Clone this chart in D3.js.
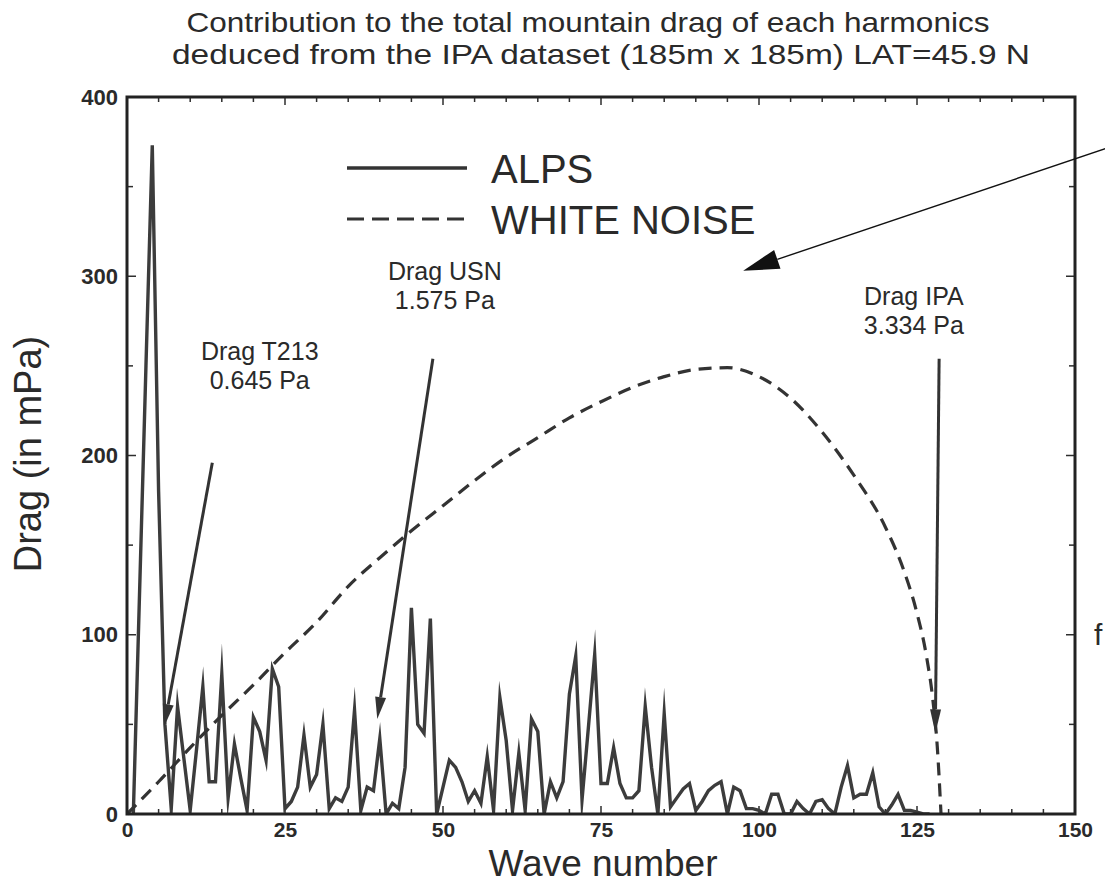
<!DOCTYPE html>
<html><head><meta charset="utf-8">
<script src="https://cdn.jsdelivr.net/npm/d3@7"></script>
<style>
html,body{margin:0;padding:0;background:#fff;}
svg{display:block;}
text{font-family:"Liberation Sans",Arial,Helvetica,sans-serif;fill:#2a2a2a;}
</style></head>
<body>
<script>
// ---------- data ----------
const titleLines = ["Contribution to the total mountain drag of each harmonics",
                    "deduced from the IPA dataset (185m x 185m) LAT=45.9 N"];
const xTicks = [0, 25, 50, 75, 100, 125, 150];
const yTicks = [0, 100, 200, 300, 400];
const seriesNames = ["ALPS", "WHITE NOISE"];
// ALPS: drag per harmonic (mPa), wave numbers 1..127
const alpsValues = [0, 125, 250, 373, 180, 50, 3, 60, 31, 2, 36, 71, 18, 18, 78, 9, 39, 20, 2, 54,
  46, 30, 81, 71, 3, 7, 15, 44, 15, 22, 50, 3, 9, 7, 15, 58, 2, 15, 13, 42,
  0, 6, 3, 26, 115, 50, 45, 109, 0, 15, 30, 26, 18, 7, 13, 6, 32, 2, 65, 41,
  2, 34, 2, 53, 46, 0, 18, 9, 18, 67, 88, 8, 48, 89, 17, 17, 37, 17, 9, 9,
  13, 60, 26, 0, 56, 4, 9, 14, 17, 2, 7, 13, 16, 18, 0, 15, 13, 3, 3, 2,
  0, 11, 11, 0, 0, 7, 3, 0, 7, 8, 3, 0, 15, 27, 9, 11, 11, 23, 4, 0,
  5, 11, 2, 2, 1, 0, 0];
const alpsWaves = alpsValues.map((v, i) => i + 1);
// WHITE NOISE spectrum
const noiseWaves  = [0, 5, 10, 15, 20, 25, 30, 35, 40, 45, 50, 55, 60, 65, 70, 75, 80, 85, 90, 95,
  100, 105, 110, 115, 120, 123, 125, 126.5, 127.5, 128.2, 128.8];
const noiseValues = [0, 18, 37, 55, 72, 90, 107, 127, 143, 158, 172, 186, 199, 210, 221, 230, 238, 244, 248, 249,
  244, 232, 213, 189, 160, 135, 112, 88, 64, 38, 0];
// annotations (data units)
const annoLabels = [["Drag T213", "0.645 Pa"], ["Drag USN", "1.575 Pa"], ["Drag IPA", "3.334 Pa"]];

// ---------- layout ----------
const W = 1105, H = 885;
const L = 127, R = 1075, T = 97, B = 814;
const svg = d3.select("body").append("svg").attr("width", W).attr("height", H);
const x = d3.scaleLinear().domain([0, 150]).range([L, R]);
const y = d3.scaleLinear().domain([0, 400]).range([B, T]);
const ink = "#2e2e2e";

// title
svg.append("text").attr("x", 588).attr("y", 32).attr("text-anchor", "middle")
  .attr("font-size", 28).attr("textLength", 803).attr("lengthAdjust", "spacingAndGlyphs").text(titleLines[0]);
svg.append("text").attr("x", 601).attr("y", 64).attr("text-anchor", "middle")
  .attr("font-size", 28).attr("textLength", 858).attr("lengthAdjust", "spacingAndGlyphs").text(titleLines[1]);

// ticks (inside) - bottom / top / left / right
const gt = svg.append("g").attr("stroke", ink).attr("stroke-width", 1.5);
d3.range(0, 151, 5).forEach(v => {
  const len = v % 25 === 0 ? 8 : 5;
  gt.append("line").attr("x1", x(v)).attr("x2", x(v)).attr("y1", B).attr("y2", B - len);
  gt.append("line").attr("x1", x(v)).attr("x2", x(v)).attr("y1", T).attr("y2", T + len);
});
d3.range(0, 401, 50).forEach(v => {
  const len = v % 100 === 0 ? 9 : 6;
  gt.append("line").attr("x1", L).attr("x2", L + len).attr("y1", y(v)).attr("y2", y(v));
  gt.append("line").attr("x1", R).attr("x2", R - len).attr("y1", y(v)).attr("y2", y(v));
});

// axes labels via d3 axes
const xAxis = svg.append("g").attr("transform", `translate(0,${B})`)
  .call(d3.axisBottom(x).tickValues(xTicks).tickSize(0).tickPadding(8));
xAxis.select(".domain").remove();
xAxis.selectAll("text").attr("font-size", 21).attr("font-weight", "bold").attr("fill", "#333")
  .style("font-family", '"Liberation Sans",Arial,sans-serif');
const yAxis = svg.append("g").attr("transform", `translate(${L},0)`)
  .call(d3.axisLeft(y).tickValues(yTicks).tickSize(0).tickPadding(9));
yAxis.select(".domain").remove();
yAxis.selectAll("text").attr("font-size", 22).attr("font-weight", "bold").attr("fill", "#333")
  .style("font-family", '"Liberation Sans",Arial,sans-serif');

svg.append("text").attr("x", 603).attr("y", 876).attr("text-anchor", "middle").attr("font-size", 37).text("Wave number");
svg.append("text").attr("transform", "translate(41,454) rotate(-90)").attr("text-anchor", "middle")
  .attr("font-size", 38).text("Drag (in mPa)");

// data lines
svg.append("clipPath").attr("id", "clip").append("rect")
  .attr("x", L).attr("y", T).attr("width", R - L).attr("height", B - T);
const alpsLine = d3.line().x(d => x(d[0])).y(d => y(d[1]));
svg.append("path").datum(alpsWaves.map((w, i) => [w, alpsValues[i]]))
  .attr("d", alpsLine).attr("fill", "none").attr("stroke", "#3c3c3c").attr("stroke-width", 3.4)
  .attr("stroke-linejoin", "miter").attr("stroke-miterlimit", 20).attr("clip-path", "url(#clip)");
const noiseLine = d3.line().x(d => x(d[0])).y(d => y(d[1])).curve(d3.curveMonotoneX);
svg.append("path").datum(noiseWaves.map((w, i) => [w, noiseValues[i]]))
  .attr("d", noiseLine).attr("fill", "none").attr("stroke", "#333").attr("stroke-width", 3.2)
  .attr("stroke-dasharray", "13,8");

// frame
svg.append("rect").attr("x", L).attr("y", T).attr("width", R - L).attr("height", B - T)
  .attr("fill", "none").attr("stroke", "#222").attr("stroke-width", 3);

// legend
const lg = svg.append("g");
lg.append("line").attr("x1", 347).attr("x2", 467).attr("y1", 168).attr("y2", 168)
  .attr("stroke", "#333").attr("stroke-width", 3.4);
lg.append("text").attr("x", 491).attr("y", 183).attr("font-size", 40).text(seriesNames[0]);
lg.append("line").attr("x1", 347).attr("x2", 467).attr("y1", 219).attr("y2", 219)
  .attr("stroke", "#333").attr("stroke-width", 3.2).attr("stroke-dasharray", "17,8");
lg.append("text").attr("x", 491).attr("y", 234).attr("font-size", 40).text(seriesNames[1]);

// arrows
function arrow(x1, y1, x2, y2, w, headL, headW, color) {
  const px1 = x(x1), py1 = y(y1), px2 = x(x2), py2 = y(y2);
  const a = Math.atan2(py2 - py1, px2 - px1);
  const bx = px2 - headL * Math.cos(a), by = py2 - headL * Math.sin(a);
  svg.append("line").attr("x1", px1).attr("y1", py1).attr("x2", bx).attr("y2", by)
    .attr("stroke", color).attr("stroke-width", w);
  const nx = -Math.sin(a) * headW / 2, ny = Math.cos(a) * headW / 2;
  svg.append("path").attr("d", `M${px2},${py2}L${bx + nx},${by + ny}L${bx - nx},${by - ny}Z`).attr("fill", color);
}
arrow(13.5, 196, 5.9, 49, 3, 22, 11, "#333");
arrow(48.4, 254, 39.6, 53, 3, 22, 11, "#333");
arrow(128.5, 254, 127.9, 45, 3, 24, 11, "#333");
arrow(155.5, 372, 97.5, 303, 1.4, 36, 20, "#111");

// annotation labels
function label(xv, yv, lines) {
  const t = svg.append("text").attr("text-anchor", "middle").attr("font-size", 25);
  lines.forEach((s, i) => t.append("tspan").attr("x", x(xv)).attr("y", y(yv) + i * 29).text(s));
}
label(21, 253, annoLabels[0]);
label(50.3, 298, annoLabels[1]);
label(124.5, 284, annoLabels[2]);

// cut-off letter of the surrounding page at right edge
svg.append("text").attr("x", 1094).attr("y", 645).attr("font-size", 30).text("f");
</script>
</body></html>
